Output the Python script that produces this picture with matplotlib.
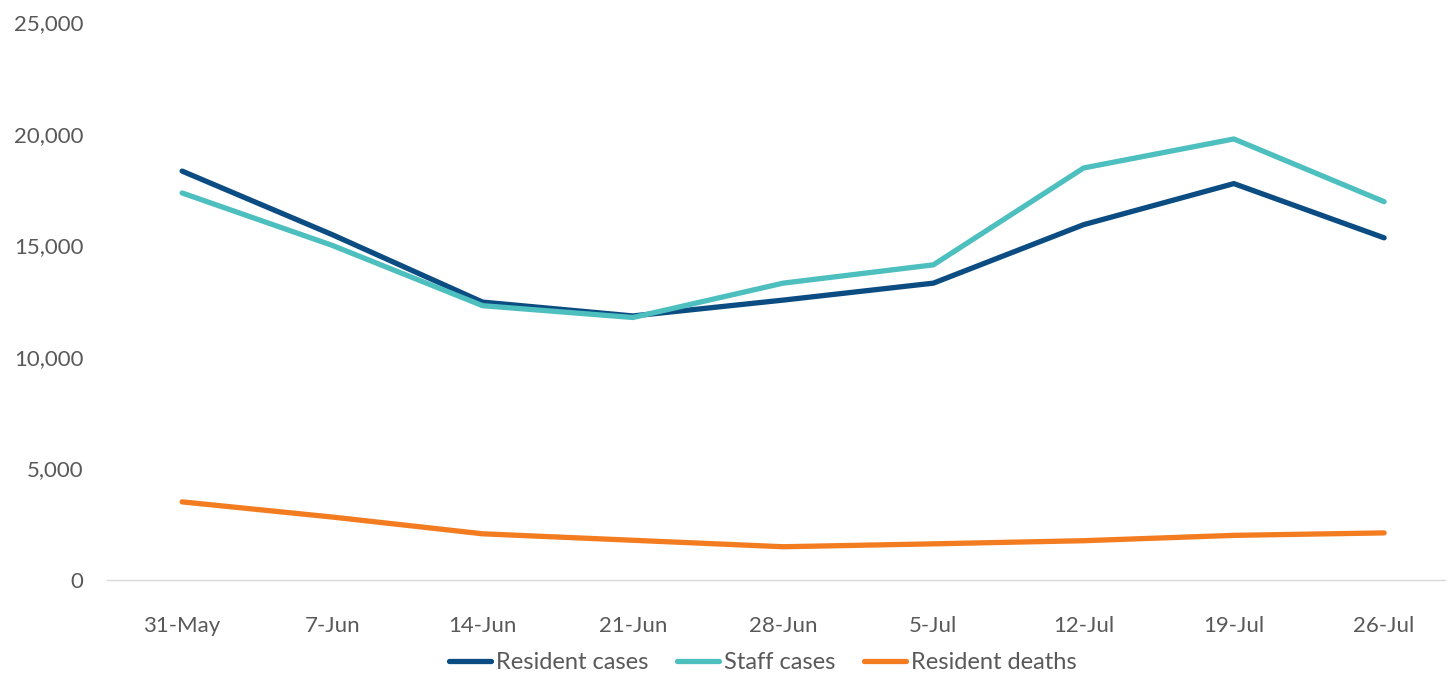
import matplotlib.pyplot as plt
import numpy as np
from matplotlib.ticker import FuncFormatter

plt.rcParams['font.family'] = ['Lato', 'DejaVu Sans']

weeks = ["31-May", "7-Jun", "14-Jun", "21-Jun", "28-Jun", "5-Jul", "12-Jul", "19-Jul", "26-Jul"]
resident_cases = [18320, 15470, 12450, 11830, 12540, 13300, 15920, 17760, 15330]
staff_cases = [17340, 14990, 12290, 11760, 13300, 14120, 18460, 19760, 16950]
resident_deaths = [3500, 2820, 2070, 1780, 1490, 1620, 1760, 2000, 2110]

series = [
    ("Resident cases", resident_cases, "#0B4C82"),
    ("Staff cases", staff_cases, "#4DBFBF"),
    ("Resident deaths", resident_deaths, "#F47C20"),
]

fig = plt.figure(figsize=(14.56, 6.77), dpi=100)
ax = fig.add_axes([107/1456, 97/677, 1338/1456, 558/677])

x = np.arange(len(weeks))
for name, vals, color in series:
    ax.plot(x, vals, color=color, lw=3.8, label=name, solid_capstyle='round', solid_joinstyle='round')

ax.set_xlim(-0.5, -0.5 + 1338/150.25)
ax.set_ylim(0, 25000)
ax.set_yticks(range(0, 25001, 5000))
ax.yaxis.set_major_formatter(FuncFormatter(lambda v, p: f"{int(v):,}"))
ax.set_xticks(x)
ax.set_xticklabels(weeks)

for s in ["top", "right", "left"]:
    ax.spines[s].set_visible(False)
ax.spines["bottom"].set_color("#D9D9D9")
ax.spines["bottom"].set_linewidth(1)
ax.tick_params(axis="both", length=0, labelsize=16, labelcolor="#595959")
ax.tick_params(axis="x", pad=26)
ax.tick_params(axis="y", pad=17)

ax.legend(loc="lower center", bbox_to_anchor=(0.49, -0.205), ncol=3, frameon=False,
          fontsize=17, labelcolor="#595959", handlelength=1.8, handletextpad=0.2,
          columnspacing=1.2)

fig.savefig("out.png", dpi=100)
